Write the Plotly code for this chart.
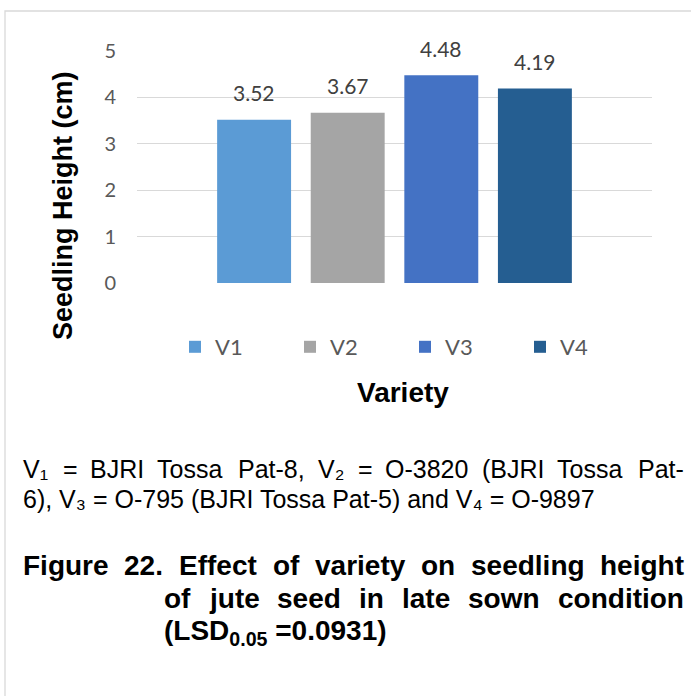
import plotly.graph_objects as go

# ---- data ----
varieties = ["V1", "V2", "V3", "V4"]
heights = [3.52, 3.67, 4.48, 4.19]
bar_colors = ["#5B9BD5", "#A5A5A5", "#4472C4", "#255E91"]
y_ticks = [0, 1, 2, 3, 4, 5]
group_label = "Variety"
y_title = "Seedling Height (cm)"

note_line1 = ["V₁", "=", "BJRI", "Tossa", "Pat-8,", "V₂", "=",
              "O-3820", "(BJRI", "Tossa", "Pat-"]
note_line2 = "6), V₃ = O-795 (BJRI Tossa Pat-5) and V₄ = O-9897"
caption_line1 = ["Figure", "22.", "Effect", "of", "variety", "on", "seedling", "height"]
caption_line2 = ["of", "jute", "seed", "in", "late", "sown", "condition"]
caption_line3 = "(LSD<sub>0.05</sub> =0.0931)"

# ---- page geometry ----
W, H = 691, 696
ML, MR, MT, MB = 137, 39, 51, 413
PW, PH = W - ML - MR, H - MT - MB
BARGAP, BARGROUPGAP = 0.273, 0.21

TEXT_FONT = "Liberation Sans, Arial, sans-serif"
CHART_FONT = "Lato, Calibri, sans-serif"
NOTE_SIZE, CAPTION_SIZE = 25, 28


def px(x):
    return (x - ML) / PW


def py(y):
    return (H - MB - y) / PH


# advance widths (1/1000 em) for the Arial-metric font used in the notes
_digits = {d: 556 for d in "0123456789"}
_subs = {d: 400 for d in "₀₁₂₃₄₅₆₇₈₉"}
REG = {" ": 278, "(": 333, ")": 333, ",": 278, "-": 333, ".": 278, "=": 584,
       "B": 667, "I": 278, "J": 500, "O": 778, "P": 667, "R": 722, "T": 611, "V": 667,
       "a": 556, "d": 556, "n": 556, "o": 556, "s": 500, "t": 278, **_digits, **_subs}
BOLD = {" ": 278, "(": 333, ")": 333, ".": 278, "=": 584, "D": 722, "E": 667, "F": 611,
        "L": 611, "S": 667, "a": 556, "c": 556, "d": 611, "e": 556, "f": 333, "g": 611,
        "h": 611, "i": 278, "j": 278, "l": 278, "n": 611, "o": 611, "r": 389, "s": 556,
        "t": 333, "u": 611, "v": 556, "w": 778, "y": 556, **_digits}


def text_width(s, size, table):
    w, scale, i = 0.0, 1.0, 0
    while i < len(s):
        if s.startswith("<sub>", i):
            scale, i = 0.7, i + 5
            continue
        if s.startswith("</sub>", i):
            scale, i = 1.0, i + 6
            continue
        w += table.get(s[i], 556) * scale
        i += 1
    return w / 1000 * size


def justified(words, x0, x1, yc, size, table, bold):
    widths = [text_width(w, size, table) for w in words]
    gap = (x1 - x0 - sum(widths)) / (len(words) - 1)
    out, x = [], x0
    for w, wd in zip(words, widths):
        txt = f"<b>{w}</b>" if bold else w
        out.append(dict(text=txt, x=px(x), y=py(yc), xref="paper", yref="paper",
                        xanchor="left", yanchor="middle", showarrow=False,
                        borderpad=0, font=dict(family=TEXT_FONT, size=size, color="#000000")))
        x += wd + gap
    return out


fig = go.Figure()
for name, h, c in zip(varieties, heights, bar_colors):
    fig.add_trace(go.Bar(x=[group_label], y=[h], name=name, marker=dict(color=c, line=dict(width=0)),
                         hoverinfo="name+y"))

# value labels above each bar of the cluster
pitch = PW * (1 - BARGAP) / len(varieties)
annotations = []
for i, h in enumerate(heights):
    annotations.append(dict(text=f"{h:.2f}", x=group_label, y=h, xref="x", yref="y",
                            xshift=(i - (len(heights) - 1) / 2) * pitch, yshift=27,
                            yanchor="middle", showarrow=False,
                            font=dict(family=CHART_FONT, size=21, color="#404040")))

# axis titles
annotations.append(dict(text=f"<b>{y_title}</b>", x=px(63), y=py(206), xref="paper", yref="paper",
                        textangle=-90, showarrow=False, xanchor="center", yanchor="middle",
                        font=dict(family=TEXT_FONT, size=27, color="#000000")))
annotations.append(dict(text=f"<b>{group_label}</b>", x=px(403), y=py(392), xref="paper", yref="paper",
                        showarrow=False, xanchor="center", yanchor="middle",
                        font=dict(family=TEXT_FONT, size=28, color="#000000")))

# notes and caption under the chart
annotations += justified(note_line1, 22, 683, 469, NOTE_SIZE, REG, False)
annotations.append(dict(text=note_line2, x=px(22), y=py(499), xref="paper", yref="paper",
                        xanchor="left", yanchor="middle", showarrow=False, borderpad=0,
                        font=dict(family=TEXT_FONT, size=NOTE_SIZE, color="#000000")))
annotations += justified(caption_line1, 22, 683, 565, CAPTION_SIZE, BOLD, True)
annotations += justified(caption_line2, 163, 683, 598, CAPTION_SIZE, BOLD, True)
annotations.append(dict(text=f"<b>{caption_line3}</b>", x=px(163), y=py(632), xref="paper", yref="paper",
                        xanchor="left", yanchor="middle", showarrow=False, borderpad=0,
                        font=dict(family=TEXT_FONT, size=CAPTION_SIZE, color="#000000")))

fig.update_layout(
    width=W, height=H,
    margin=dict(l=ML, r=MR, t=MT, b=MB, pad=0),
    paper_bgcolor="#FFFFFF", plot_bgcolor="#FFFFFF",
    barmode="group", bargap=BARGAP, bargroupgap=BARGROUPGAP,
    showlegend=True,
    legend=dict(orientation="h", x=px(175), y=py(347), xanchor="left", yanchor="middle",
                entrywidth=70, entrywidthmode="pixels", traceorder="normal",
                font=dict(family=CHART_FONT, size=22, color="#595959"),
                bgcolor="rgba(0,0,0,0)"),
    xaxis=dict(showticklabels=False, showgrid=False, showline=False, zeroline=False, ticks=""),
    yaxis=dict(range=[0, 5], tickvals=y_ticks, showgrid=True, gridcolor="#D9D9D9", gridwidth=1.3,
               zeroline=False, showline=False, ticks="", ticklabelstandoff=20,
               tickfont=dict(family=CHART_FONT, size=20, color="#595959")),
    annotations=annotations,
    shapes=[dict(type="rect", xref="paper", yref="paper", x0=px(5), x1=px(W + 20),
                 y0=py(11), y1=py(H + 20), line=dict(color="#D9D9D9", width=1.3),
                 fillcolor="rgba(0,0,0,0)", layer="below")],
)

fig.write_html("out.html")
